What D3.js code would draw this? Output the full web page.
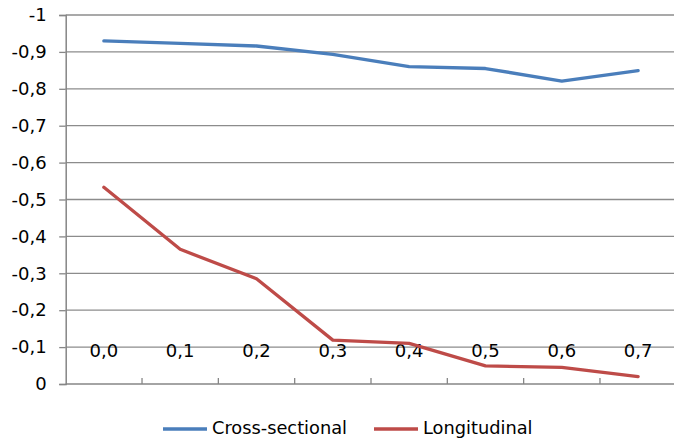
<!DOCTYPE html>
<html><head><meta charset="utf-8">
<script src="https://cdn.jsdelivr.net/npm/d3@7/dist/d3.min.js"></script>
<style>body{margin:0;background:#fff}svg{display:block}text{font-family:"DejaVu Sans",sans-serif;fill:#000}</style>
</head><body><svg id="c" width="674" height="446"></svg>
<script>
const categories = ["0,0","0,1","0,2","0,3","0,4","0,5","0,6","0,7"];
const crossSectional = [-0.930, -0.923, -0.916, -0.893, -0.860, -0.855, -0.821, -0.849];
const longitudinal = [-0.533, -0.365, -0.285, -0.119, -0.110, -0.049, -0.045, -0.020];
const yTicks = [0,-0.1,-0.2,-0.3,-0.4,-0.5,-0.6,-0.7,-0.8,-0.9,-1];
const seriesNames = ["Cross-sectional","Longitudinal"];
const colors = ["#4A7EBB","#BE4B48"];

(function(){
const svg = d3.select("#c");
const pLeft = 65.7, pRight = 676.3, pTop = 15, pBottom = 384;
const x = d3.scaleBand().domain(categories).range([pLeft, pRight]);
const y = d3.scaleLinear().domain([0,-1]).range([pBottom, pTop]);
const fmt = v => (v===0 ? "0" : (v===-1 ? "-1" : d3.format(".1f")(v))).replace(".",",").replace("−","-");

// gridlines
svg.append("g").selectAll("line").data(yTicks.filter(t=>t!==0)).join("line")
  .attr("x1", pLeft).attr("x2", 674).attr("y1", d=>y(d)).attr("y2", d=>y(d))
  .attr("stroke","#8c8c8c").attr("stroke-width",1.3);

// y axis
const ya = svg.append("g").attr("transform",`translate(${pLeft},0)`)
  .call(d3.axisLeft(y).tickValues(yTicks).tickFormat(fmt).tickSize(6.5).tickPadding(12.5));
ya.select(".domain").attr("stroke","#868686").attr("stroke-width",1.5);
ya.selectAll(".tick line").attr("stroke","#868686").attr("stroke-width",1.3);
ya.selectAll(".tick text").style("font-size","18px").style("font-family",'"DejaVu Sans",sans-serif').attr("fill","#000");

// x axis line & ticks (ticks inside, at category boundaries)
svg.append("line").attr("x1",pLeft).attr("x2",674).attr("y1",pBottom).attr("y2",pBottom)
  .attr("stroke","#868686").attr("stroke-width",1.5);
svg.append("g").selectAll("line").data(categories.slice(1)).join("line")
  .attr("x1", d=>x(d)).attr("x2", d=>x(d)).attr("y1", pBottom).attr("y2", pBottom-6)
  .attr("stroke","#868686").attr("stroke-width",1.3);

// category labels (drawn at the -0,1 level as in the reference)
svg.append("g").selectAll("text").data(categories).join("text")
  .attr("x", d=>x(d)+x.bandwidth()/2).attr("y", y(-0.1)+5)
  .attr("text-anchor","middle").attr("dominant-baseline","middle")
  .style("font-size","18px").text(d=>d);

// lines
const line = d3.line().x((d,i)=>x(categories[i])+x.bandwidth()/2).y(d=>y(d));
[crossSectional, longitudinal].forEach((s,i)=>{
  svg.append("path").datum(s).attr("d", line).attr("fill","none")
    .attr("stroke", colors[i]).attr("stroke-width",3.3).attr("stroke-linejoin","round").attr("stroke-linecap","round");
});

// legend
const legendX = [163, 374];
seriesNames.forEach((n,i)=>{
  const g = svg.append("g").attr("transform",`translate(${legendX[i]},429)`);
  g.append("line").attr("x1",0).attr("x2",44).attr("y1",0).attr("y2",0)
    .attr("stroke",colors[i]).attr("stroke-width",3.3);
  g.append("text").attr("x",49).attr("y",0).attr("dominant-baseline","middle")
    .style("font-size","17.8px").text(n);
});
})();
</script></body></html>
